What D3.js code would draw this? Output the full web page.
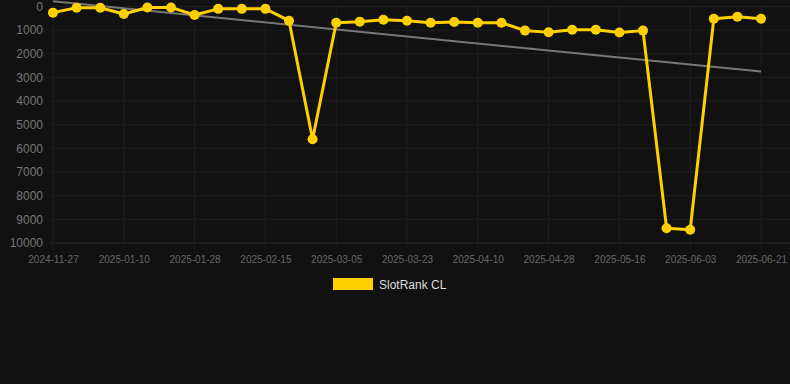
<!DOCTYPE html>
<html>
<head>
<meta charset="utf-8">
<script src="https://cdn.jsdelivr.net/npm/d3@7"></script>
<style>
  html, body { margin: 0; padding: 0; background: #111111; }
  svg { display: block; font-family: "Liberation Sans", Arial, sans-serif; }
</style>
</head>
<body>
<div id="chart"></div>
<script>
const width = 790;
const height = 384;

var dates = [
  "2024-11-27", "2024-12-29", "2025-01-04", "2025-01-10", "2025-01-16",
  "2025-01-22", "2025-01-28", "2025-02-03", "2025-02-09", "2025-02-15",
  "2025-02-21", "2025-02-27", "2025-03-05", "2025-03-11", "2025-03-17",
  "2025-03-23", "2025-03-29", "2025-04-04", "2025-04-10", "2025-04-16",
  "2025-04-22", "2025-04-28", "2025-05-04", "2025-05-10", "2025-05-16",
  "2025-05-22", "2025-05-28", "2025-06-03", "2025-06-09", "2025-06-15",
  "2025-06-21"
];

var ranks = [
  260, 50, 50, 320, 40, 40, 360, 100, 100, 100,
  600, 5610, 685, 640, 560, 600, 685, 655, 685, 685,
  1020, 1090, 980, 980, 1100, 1020, 9380, 9440, 515, 430,
  515
];

var yTicks = [0, 1000, 2000, 3000, 4000, 5000, 6000, 7000, 8000, 9000, 10000];
var seriesName = "SlotRank CL";

const plotLeft = 53, plotRight = 761, plotTop = 6.5, plotBottom = 243;

var svg = d3.select("#chart").append("svg")
  .attr("width", width).attr("height", height);

svg.append("rect").attr("width", width).attr("height", height).attr("fill", "#111111");

var x = d3.scalePoint().domain(dates).range([plotLeft, plotRight]);
var y = d3.scaleLinear().domain([0, 10000]).range([plotTop, plotBottom]);

// grid
svg.append("g").selectAll("line").data(yTicks).enter().append("line")
  .attr("x1", plotLeft - 3).attr("x2", width)
  .attr("y1", (d) => y(d)).attr("y2", (d) => y(d))
  .attr("stroke", d => d === 10000 ? "#2a2a2a" : "#1e1e1e").attr("stroke-width", 1);

var shown = dates.filter((d, i) => i % 3 === 0);
svg.append("g").selectAll("line").data(shown).enter().append("line")
  .attr("x1", (d) => x(d)).attr("x2", (d) => x(d))
  .attr("y1", plotTop).attr("y2", plotBottom + 7)
  .attr("stroke", "#1e1e1e").attr("stroke-width", 1);

// y axis labels
var yAxis = svg.append("g")
  .attr("transform", `translate(${plotLeft - 10},0)`)
  .call(d3.axisLeft(y).tickValues(yTicks).tickSize(0).tickPadding(0).tickFormat(d3.format("d")));
yAxis.select(".domain").remove();
yAxis.selectAll("text").attr("fill", "#777").attr("font-size", 12)
  .attr("font-family", "'Liberation Sans', Arial, sans-serif");

// x axis labels
var xAxis = svg.append("g")
  .attr("transform", `translate(0,${plotBottom + 12.5})`)
  .call(d3.axisBottom(x).tickValues(shown).tickSize(0).tickPadding(0));
xAxis.select(".domain").remove();
xAxis.selectAll("text").attr("fill", "#666").attr("font-size", 10)
  .attr("font-family", "'Liberation Sans', Arial, sans-serif");

// trend line (least squares)
var n = ranks.length;
var mx = d3.mean(ranks, (d, i) => i);
var my = d3.mean(ranks);
var sxy = d3.sum(ranks, (d, i) => (i - mx) * (d - my));
var sxx = d3.sum(ranks, (d, i) => (i - mx) * (i - mx));
var slope = sxy / sxx;
var trend = [0, n - 1].map((i) => ({ date: dates[i], v: my + slope * (i - mx) }));

svg.append("path")
  .datum(trend)
  .attr("fill", "none").attr("stroke", "#777").attr("stroke-width", 2)
  .attr("d", d3.line().x((d) => x(d.date)).y((d) => y(d.v)));

// series
var pts = dates.map((d, i) => ({ date: d, v: ranks[i] }));
svg.append("path")
  .datum(pts)
  .attr("fill", "none").attr("stroke", "#ffd000").attr("stroke-width", 3)
  .attr("stroke-linejoin", "round")
  .attr("d", d3.line().x((d) => x(d.date)).y((d) => y(d.v)));

svg.append("g").selectAll("circle").data(pts).enter().append("circle")
  .attr("cx", (d) => x(d.date)).attr("cy", (d) => y(d.v))
  .attr("r", 5).attr("fill", "#ffd000");

// legend
var lg = svg.append("g");
lg.append("rect").attr("x", 333).attr("y", 278).attr("width", 40).attr("height", 12)
  .attr("fill", "#ffd000");
lg.append("text").attr("x", 379).attr("y", 288.5).attr("fill", "#dddddd")
  .attr("font-size", 12).text(seriesName);
</script>
</body>
</html>
